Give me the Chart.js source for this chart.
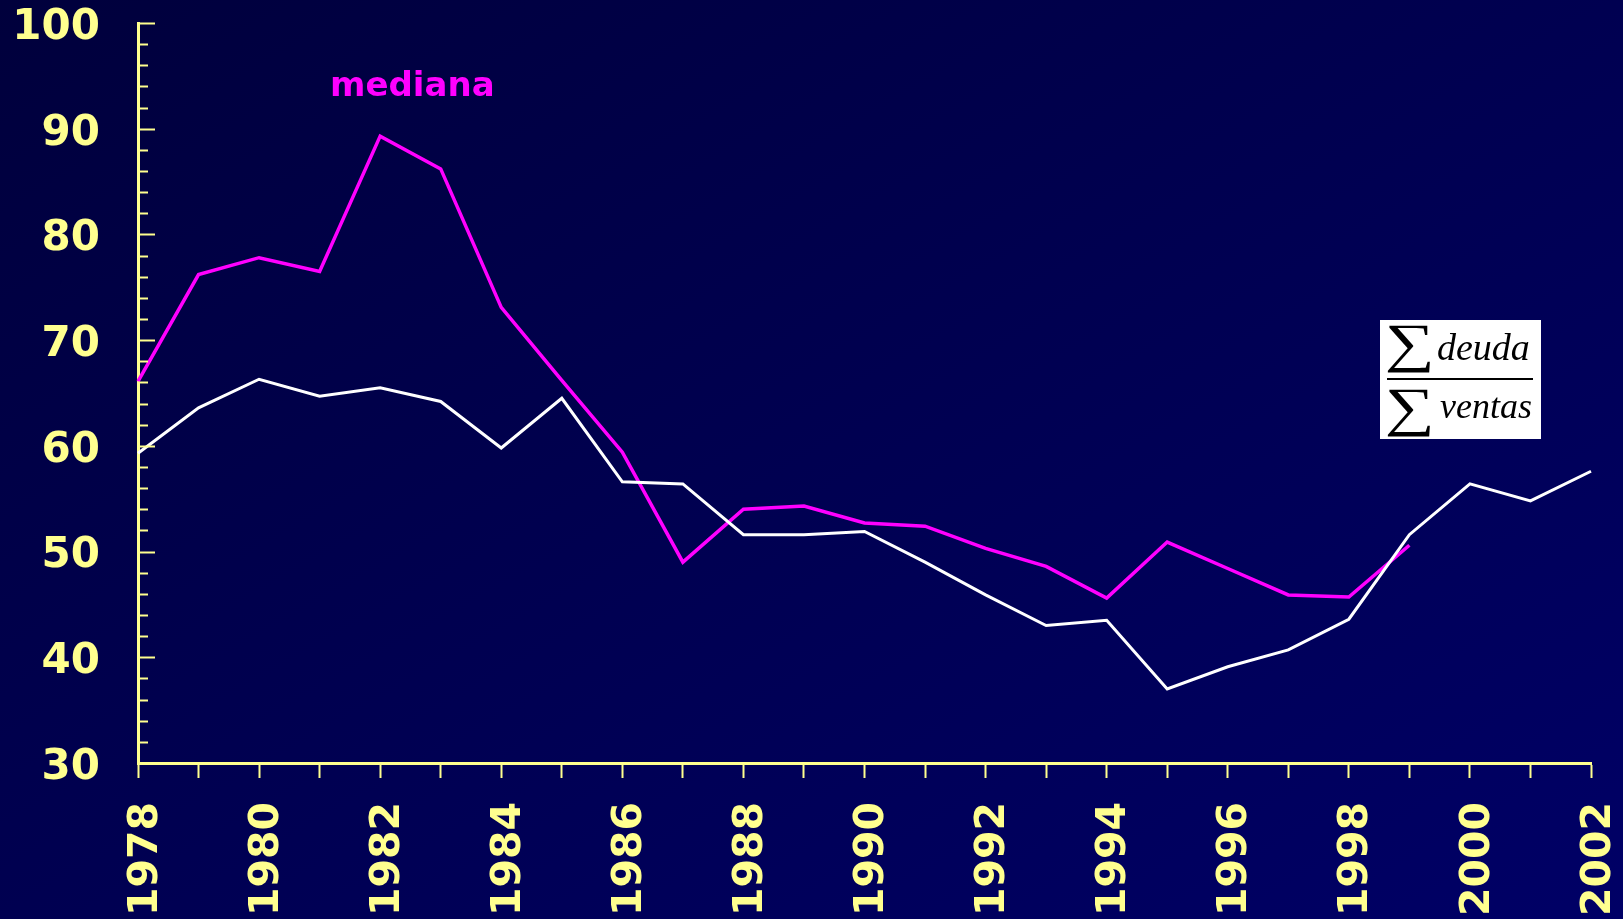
<!DOCTYPE html>
<html>
<head>
<meta charset="utf-8">
<script src="https://cdn.jsdelivr.net/npm/chart.js@4.4.1/dist/chart.umd.min.js"></script>
<style>
  html, body { margin: 0; padding: 0; }
  body {
    width: 1623px; height: 919px; overflow: hidden;
    background: linear-gradient(to bottom right, #00003c, #000066);
  }
  #wrap { position: relative; width: 1623px; height: 919px; }
</style>
</head>
<body>
<div id="wrap"><canvas id="grafico"></canvas></div>
<script>
// Datos
const anios = ['1978', '1979', '1980', '1981', '1982', '1983', '1984', '1985', '1986', '1987',
  '1988', '1989', '1990', '1991', '1992', '1993', '1994', '1995', '1996', '1997',
  '1998', '1999', '2000', '2001', '2002'];

// Σ deuda / Σ ventas (línea blanca)
const deudaVentas = [59.3, 63.6, 66.3, 64.7, 65.5, 64.2, 59.8, 64.5, 56.6, 56.4,
  51.6, 51.6, 51.9, 49.0, 45.9, 43.0, 43.5, 37.0, 39.1, 40.7,
  43.6, 51.6, 56.4, 54.8, 57.6];

// mediana (línea magenta), termina en 1999
const mediana = [66.1, 76.2, 77.8, 76.5, 89.3, 86.2, 73.1, 66.2, 59.4, 49.0,
  54.0, 54.3, 52.7, 52.4, 50.3, 48.6, 45.6, 50.9, 48.4, 45.9,
  45.7, 50.6, null, null, null];

const ejeY = { min: 30, max: 100, paso: 2, pasoEtiqueta: 10 };

const amarillo = '#ffff8f';
const magenta = '#ff00ff';

// marcas del eje Y hacia dentro (largas cada 10, cortas cada 2)
const marcasY = {
  id: 'marcasY',
  afterDraw(chart) {
    const ctx = chart.ctx;
    const y = chart.scales.y;
    const left = chart.chartArea.left;
    ctx.save();
    ctx.strokeStyle = amarillo;
    ctx.lineWidth = 2;
    y.ticks.forEach(t => {
      const py = Math.round(y.getPixelForValue(t.value)) + 0.5;
      const largo = t.value % ejeY.pasoEtiqueta === 0 ? 17 : 10;
      ctx.beginPath();
      ctx.moveTo(left, py);
      ctx.lineTo(left + largo, py);
      ctx.stroke();
    });
    ctx.restore();
  }
};

// textos: "mediana" y la fórmula
const anotaciones = {
  id: 'anotaciones',
  afterDraw(chart) {
    const ctx = chart.ctx;
    ctx.save();
    ctx.fillStyle = magenta;
    ctx.font = 'bold 34px "DejaVu Sans"';
    ctx.textBaseline = 'alphabetic';
    ctx.fillText('mediana', 330, 96);

    // recuadro blanco
    ctx.fillStyle = '#ffffff';
    ctx.fillRect(1380, 320, 161, 119);
    ctx.fillStyle = '#000000';
    ctx.strokeStyle = '#000000';

    ctx.font = '54px "Liberation Serif"';
    [[1385, 361], [1385, 425]].forEach(([sx, sy]) => {
      ctx.save();
      ctx.translate(sx, sy);
      ctx.scale(1.3, 1);
      ctx.fillText('∑', 0, 0);
      ctx.restore();
    });

    ctx.font = 'italic 38px "Liberation Serif"';
    ctx.fillText('deuda', 1437, 360);
    ctx.font = 'italic 36px "Liberation Serif"';
    ctx.fillText('ventas', 1440, 418);

    ctx.lineWidth = 2;
    ctx.beginPath();
    ctx.moveTo(1387, 379);
    ctx.lineTo(1533, 379);
    ctx.stroke();
    ctx.restore();
  }
};

const grafico = new Chart(document.getElementById('grafico'), {
  type: 'line',
  data: {
    labels: anios,
    datasets: [
      {
        label: 'Σ deuda / Σ ventas',
        data: deudaVentas,
        borderColor: '#ffffff',
        borderWidth: 3,
        pointRadius: 0,
        tension: 0,
        fill: false
      },
      {
        label: 'mediana',
        data: mediana,
        borderColor: magenta,
        borderWidth: 3.5,
        pointRadius: 0,
        tension: 0,
        fill: false,
        spanGaps: false
      }
    ]
  },
  options: {
    responsive: true,
    maintainAspectRatio: false,
    animation: false,
    events: [],
    layout: { padding: { top: 23, right: 32, left: 0, bottom: 0 } },
    plugins: {
      legend: { display: false },
      tooltip: { enabled: false }
    },
    scales: {
      x: {
        offset: false,
        afterFit: s => {
          s.height = 156;
          s.paddingLeft = 0;
          s.paddingRight = 0;
        },
        grid: {
          drawOnChartArea: false,
          tickLength: 15,
          tickWidth: 2,
          tickColor: amarillo
        },
        border: { color: amarillo, width: 3 },
        ticks: {
          autoSkip: false,
          minRotation: 90,
          maxRotation: 90,
          padding: 24,
          labelOffset: 8,
          color: amarillo,
          font: { family: 'DejaVu Sans', weight: 'bold', size: 41, lineHeight: 1 },
          callback: function (v, i) {
            return i % 2 === 0 ? this.getLabelForValue(v) : '';
          }
        }
      },
      y: {
        min: ejeY.min,
        max: ejeY.max,
        afterFit: s => {
          s.width = 138;
          s.paddingTop = 0;
          s.paddingBottom = 0;
        },
        grid: { display: false, drawTicks: false },
        border: { color: amarillo, width: 3 },
        ticks: {
          stepSize: ejeY.paso,
          autoSkip: false,
          padding: 38,
          labelOffset: 5,
          color: amarillo,
          font: { family: 'DejaVu Sans', weight: 'bold', size: 42, lineHeight: 1 },
          callback: v => (v % ejeY.pasoEtiqueta === 0 ? String(v) : '')
        }
      }
    }
  },
  plugins: [marcasY, anotaciones]
});
</script>
</body>
</html>
